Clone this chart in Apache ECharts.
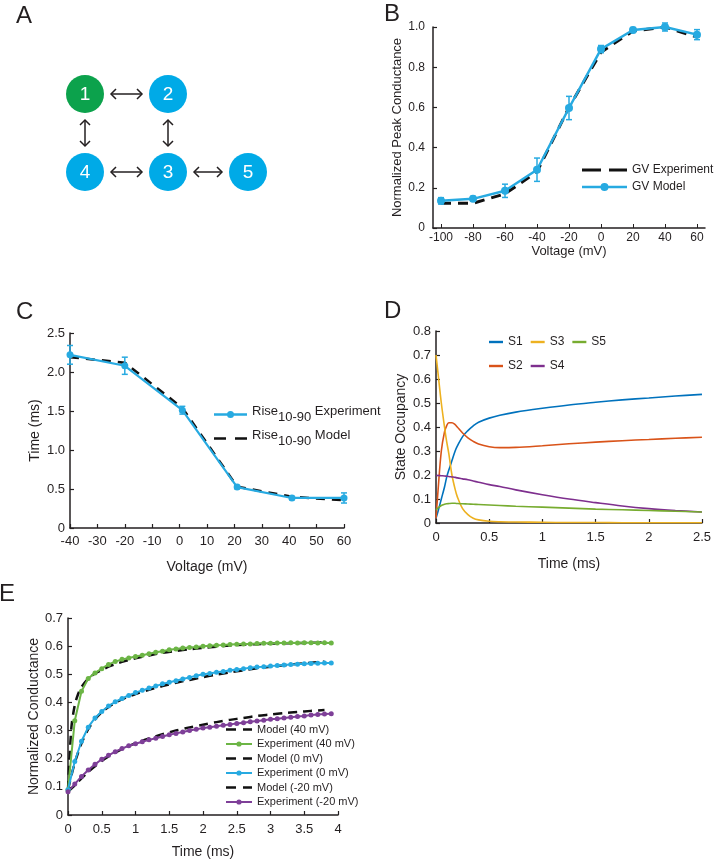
<!DOCTYPE html>
<html>
<head>
<meta charset="utf-8">
<script src="https://cdn.jsdelivr.net/npm/echarts@6/dist/echarts.min.js"></script>
<style>html,body{margin:0;padding:0;background:#fff}#c{width:714px;height:860px}</style>
</head>
<body>
<div id="c"></div>
<script>
// ---------- Panel A: kinetic scheme ----------
const aStates = ['1', '2', '3', '4', '5'];
const aStateColors = ['#0CA24C', '#00AAE7', '#00AAE7', '#00AAE7', '#00AAE7'];
const aTransitions = [['1', '2'], ['1', '4'], ['2', '3'], ['4', '3'], ['3', '5']];

// ---------- Panel B: GV ----------
const bVolt = [-100, -80, -60, -40, -20, 0, 20, 40, 60];
const bExp = [0.123, 0.123, 0.17, 0.28, 0.60, 0.875, 0.98, 1.0, 0.95];
const bModel = [0.135, 0.145, 0.185, 0.29, 0.597, 0.89, 0.985, 1.0, 0.962];
const bErr = [0.016, 0.012, 0.033, 0.058, 0.058, 0.018, 0.012, 0.02, 0.025];
const bTicks = [-100, -80, -60, -40, -20, 0, 20, 40, 60];

// ---------- Panel C: Rise 10-90 ----------
const cVolt = [-40, -20, 1, 21, 41, 60];
const cExp = [2.22, 2.08, 1.51, 0.525, 0.385, 0.385];
const cErr = [0.12, 0.11, 0.05, 0.02, 0.02, 0.065];
const cModel = [2.19, 2.12, 1.54, 0.53, 0.40, 0.355];

// ---------- Panel D: state occupancy ----------
const dTime = [0, 0.02, 0.05, 0.08, 0.1, 0.12, 0.15, 0.18, 0.2, 0.25, 0.3, 0.35, 0.4, 0.5, 0.6, 0.75, 1.0, 1.25, 1.5, 1.75, 2.0, 2.25, 2.5];
const dS1 = [0.02, 0.05, 0.10, 0.15, 0.19, 0.22, 0.26, 0.30, 0.32, 0.36, 0.385, 0.405, 0.42, 0.437, 0.449, 0.462, 0.478, 0.492, 0.503, 0.513, 0.521, 0.529, 0.536];
const dS2 = [0.02, 0.14, 0.30, 0.38, 0.405, 0.418, 0.418, 0.41, 0.40, 0.375, 0.355, 0.34, 0.329, 0.318, 0.314, 0.315, 0.322, 0.33, 0.337, 0.343, 0.348, 0.353, 0.357];
const dS3 = [0.70, 0.62, 0.50, 0.40, 0.34, 0.29, 0.20, 0.14, 0.11, 0.06, 0.035, 0.02, 0.013, 0.007, 0.005, 0.004, 0.003, 0.002, 0.002, 0.001, 0.001, 0.001, 0.001];
const dS4 = [0.198, 0.198, 0.197, 0.196, 0.195, 0.194, 0.192, 0.19, 0.188, 0.184, 0.18, 0.175, 0.17, 0.16, 0.152, 0.138, 0.118, 0.1, 0.085, 0.071, 0.06, 0.052, 0.046];
const dS5 = [0.055, 0.063, 0.073, 0.078, 0.08, 0.081, 0.082, 0.082, 0.081, 0.08, 0.079, 0.078, 0.077, 0.075, 0.073, 0.07, 0.066, 0.062, 0.058, 0.055, 0.052, 0.049, 0.046];

// ---------- Panel E: conductance vs time ----------
const eTime = [0, 0.1, 0.2, 0.3, 0.4, 0.5, 0.6, 0.7, 0.8, 0.9, 1.0, 1.1, 1.2, 1.3, 1.4, 1.5, 1.6, 1.7, 1.8, 1.9,
               2.0, 2.1, 2.2, 2.3, 2.4, 2.5, 2.6, 2.7, 2.8, 2.9, 3.0, 3.1, 3.2, 3.3, 3.4, 3.5, 3.6, 3.7, 3.8, 3.9];
const eExp40 = [0.09, 0.335, 0.44, 0.485, 0.505, 0.52, 0.535, 0.545, 0.553, 0.558, 0.563, 0.568, 0.573, 0.578, 0.582, 0.587, 0.59, 0.593, 0.595, 0.597,
                0.6, 0.601, 0.603, 0.604, 0.606, 0.607, 0.608, 0.608, 0.609, 0.61, 0.61, 0.611, 0.611, 0.612, 0.611, 0.612, 0.612, 0.611, 0.612, 0.611];
const eExp0 = [0.09, 0.19, 0.262, 0.312, 0.345, 0.368, 0.387, 0.402, 0.414, 0.425, 0.435, 0.443, 0.451, 0.458, 0.466, 0.472, 0.477, 0.483, 0.489, 0.495,
               0.5, 0.503, 0.507, 0.51, 0.514, 0.517, 0.52, 0.523, 0.526, 0.527, 0.529, 0.531, 0.533, 0.535, 0.536, 0.537, 0.538, 0.539, 0.54, 0.54];
const eExpM20 = [0.083, 0.11, 0.137, 0.16, 0.18, 0.198, 0.212, 0.225, 0.236, 0.246, 0.253, 0.26, 0.267, 0.273, 0.279, 0.285, 0.29, 0.295, 0.3, 0.305,
                 0.309, 0.312, 0.315, 0.319, 0.322, 0.325, 0.328, 0.331, 0.334, 0.337, 0.34, 0.342, 0.345, 0.347, 0.35, 0.352, 0.355, 0.357, 0.359, 0.36];
const eModelTime = [0, 0.05, 0.1, 0.15, 0.2, 0.3, 0.4, 0.5, 0.6, 0.7, 0.8, 0.9, 1.0, 1.2, 1.4, 1.6, 1.8, 2.0, 2.2, 2.4, 2.6, 2.8, 3.0, 3.2, 3.4, 3.6, 3.8];
const eModel40 = [0.09, 0.31, 0.39, 0.43, 0.455, 0.485, 0.503, 0.515, 0.527, 0.536, 0.544, 0.551, 0.557, 0.567, 0.576, 0.583, 0.589, 0.594, 0.598, 0.602, 0.605, 0.607, 0.609, 0.61, 0.611, 0.612, 0.613];
const eModel0 = [0.09, 0.14, 0.185, 0.222, 0.255, 0.305, 0.34, 0.365, 0.384, 0.399, 0.411, 0.421, 0.43, 0.445, 0.458, 0.47, 0.48, 0.49, 0.499, 0.507, 0.514, 0.521, 0.527, 0.532, 0.537, 0.541, 0.545];
const eModelM20 = [0.083, 0.094, 0.105, 0.118, 0.13, 0.153, 0.173, 0.192, 0.208, 0.222, 0.234, 0.245, 0.255, 0.272, 0.287, 0.3, 0.311, 0.321, 0.33, 0.338, 0.345, 0.352, 0.357, 0.362, 0.366, 0.37, 0.373];

// ---------- styling ----------
const FONT = '"Liberation Sans", Arial, sans-serif';
const INK = '#231F20';
const BLUE = '#27AAE1';
const GREEN = '#6CB545';
const PURPLE = '#7E3F98';
const MAT = ['#0072BD', '#D95319', '#EDB120', '#7E2F8E', '#77AC30'];

const zip = (xs, ys) => xs.map((x, i) => [x, ys[i]]);
const fmt1 = v => (v === 0 ? '0' : v.toFixed(1));

// legend icon shapes
const ICON_B_DASH = 'path://M0,0H19V3H0Z M27,0H45V3H27Z';
const ICON_C_DASH = 'path://M0,0H12V2.6H0Z M21,0H33V2.6H21Z';
const ICON_E_DASH = 'path://M0,0H10V2.6H0Z M17,0H26V2.6H17Z';
const ICON_D_LINE = 'path://M0,0H14V2.4H0Z';
const dotIcon = (w, lw, r) => {
  const cx = w / 2, cy = r;
  return 'path://M0,' + (cy - lw / 2) + 'H' + w + 'V' + (cy + lw / 2) + 'H0Z M' + (cx - r) + ',' + cy +
    ' A' + r + ',' + r + ' 0 1,1 ' + (cx + r) + ',' + cy + ' A' + r + ',' + r + ' 0 1,1 ' + (cx - r) + ',' + cy + 'Z';
};

function axisBase(extra, labelSize, nameSize) {
  return Object.assign({
    type: 'value',
    axisLine: { show: true, onZero: false, lineStyle: { color: INK, width: 1.5 } },
    axisTick: { show: true, inside: true, length: 4, lineStyle: { color: INK, width: 1.2 } },
    splitLine: { show: false },
    nameLocation: 'middle',
    nameTextStyle: { color: INK, fontSize: nameSize, fontFamily: FONT }
  }, extra, { axisLabel: Object.assign({ color: INK, fontSize: labelSize, fontFamily: FONT }, extra.axisLabel || {}) });
}

function errorSeries(gi, xs, ys, errs, color) {
  return {
    type: 'custom', xAxisIndex: gi, yAxisIndex: gi, silent: true, clip: false, z: 3,
    data: xs.map((x, i) => [x, ys[i] - errs[i], ys[i] + errs[i]]),
    encode: { x: 0, y: [1, 2] },
    renderItem: (params, api) => {
      const lo = api.coord([api.value(0), api.value(1)]);
      const hi = api.coord([api.value(0), api.value(2)]);
      const w = 3, st = { stroke: color, lineWidth: 1.5 };
      return { type: 'group', children: [
        { type: 'line', shape: { x1: lo[0], y1: lo[1], x2: hi[0], y2: hi[1] }, style: st },
        { type: 'line', shape: { x1: lo[0] - w, y1: lo[1], x2: lo[0] + w, y2: lo[1] }, style: st },
        { type: 'line', shape: { x1: hi[0] - w, y1: hi[1], x2: hi[0] + w, y2: hi[1] }, style: st }
      ] };
    }
  };
}

// ---------- Panel A graphics ----------
const aPos = { '1': [85, 94], '2': [168, 94], '3': [168, 172], '4': [85, 172], '5': [248, 172] };
const R = 19;
const aGraphics = [];
aStates.forEach((s, i) => {
  const p = aPos[s];
  aGraphics.push({ type: 'circle', shape: { cx: p[0], cy: p[1], r: R }, style: { fill: aStateColors[i] } });
  aGraphics.push({ type: 'text', x: p[0], y: p[1] + 1, style: { text: s, fill: '#fff', font: '19px ' + FONT, align: 'center', verticalAlign: 'middle' } });
});
aTransitions.forEach(([f, t]) => {
  const p = aPos[f], q = aPos[t];
  const dx = q[0] - p[0], dy = q[1] - p[1], L = Math.hypot(dx, dy);
  const ux = dx / L, uy = dy / L, gap = R + 7;
  const x1 = p[0] + ux * gap, y1 = p[1] + uy * gap, x2 = q[0] - ux * gap, y2 = q[1] - uy * gap;
  const h = 5, nx = -uy, ny = ux;
  const st = { stroke: INK, lineWidth: 1.5, fill: null };
  aGraphics.push({ type: 'line', shape: { x1, y1, x2, y2 }, style: st });
  aGraphics.push({ type: 'polyline', shape: { points: [[x1 + ux * h + nx * h, y1 + uy * h + ny * h], [x1, y1], [x1 + ux * h - nx * h, y1 + uy * h - ny * h]] }, style: st });
  aGraphics.push({ type: 'polyline', shape: { points: [[x2 - ux * h + nx * h, y2 - uy * h + ny * h], [x2, y2], [x2 - ux * h - nx * h, y2 - uy * h - ny * h]] }, style: st });
});
const letter = (t, x, y) => ({ type: 'text', x, y, style: { text: t, fill: INK, font: '24px ' + FONT, align: 'left', verticalAlign: 'middle' } });
aGraphics.push(letter('A', 16, 16), letter('B', 384, 14), letter('C', 16, 312), letter('D', 384, 311), letter('E', -1, 594));

const chart = echarts.init(document.getElementById('c'), null, { renderer: 'canvas' });
const riseRich = {
  a: { fontSize: 13, fontFamily: FONT, color: INK, padding: [0, 0, 6, 0] },
  s: { fontSize: 13, fontFamily: FONT, color: INK, padding: [6, 0, 0, 0] }
};
const legText = { color: INK, fontSize: 12, fontFamily: FONT };

chart.setOption({
  animation: false,
  textStyle: { fontFamily: FONT },
  graphic: aGraphics,
  grid: [
    { left: 433, top: 27, width: 272, height: 201 },   // B
    { left: 70, top: 333, width: 274, height: 195 },   // C
    { left: 436, top: 331, width: 272, height: 192 },  // D
    { left: 68, top: 618, width: 270, height: 197 }    // E
  ],
  xAxis: [
    axisBase({ gridIndex: 0, min: -105, max: 65, name: 'Voltage (mV)', nameGap: 15,
      axisTick: { show: true, inside: true, length: 4, customValues: bTicks, lineStyle: { color: INK } },
      axisLabel: { margin: 4, customValues: bTicks } }, 12, 13),
    axisBase({ gridIndex: 1, min: -40, max: 60, interval: 10, name: 'Voltage (mV)', nameGap: 32,
      axisLabel: { margin: 7 } }, 13, 14),
    axisBase({ gridIndex: 2, min: 0, max: 2.5, interval: 0.5, name: 'Time (ms)', nameGap: 34,
      axisLabel: { margin: 8 } }, 13, 14),
    axisBase({ gridIndex: 3, min: 0, max: 4, interval: 0.5, name: 'Time (ms)', nameGap: 30,
      axisLabel: { margin: 8 } }, 13, 14)
  ],
  yAxis: [
    axisBase({ gridIndex: 0, min: 0, max: 1, interval: 0.2, name: 'Normalized Peak Conductance', nameGap: 25,
      axisLabel: { margin: 8, formatter: fmt1 } }, 12, 13),
    axisBase({ gridIndex: 1, min: 0, max: 2.5, interval: 0.5, name: 'Time (ms)', nameGap: 28,
      axisLabel: { margin: 5, formatter: fmt1 } }, 13, 14),
    axisBase({ gridIndex: 2, min: 0, max: 0.8, interval: 0.1, name: 'State Occupancy', nameGap: 28,
      axisLabel: { margin: 5, formatter: fmt1 } }, 13, 14),
    axisBase({ gridIndex: 3, min: 0, max: 0.7, interval: 0.1, name: 'Normalized Conductance', nameGap: 21,
      axisLabel: { margin: 5, formatter: fmt1 } }, 13, 14)
  ],
  legend: [
    { left: 582, top: 164, padding: 0, orient: 'vertical', itemWidth: 45, itemHeight: 10, itemGap: 5,
      data: [{ name: 'GV Experiment', icon: ICON_B_DASH }, { name: 'GV Model', icon: dotIcon(45, 2.5, 4) }], textStyle: legText },
    { left: 214, top: 405, padding: 0, orient: 'vertical', itemWidth: 33, itemHeight: 10, itemGap: 5,
      data: [{ name: 'Rise10-90 Experiment', icon: dotIcon(33, 2.4, 3.5) }, { name: 'Rise10-90 Model', icon: ICON_C_DASH }],
      formatter: n => n === 'Rise10-90 Experiment' ? '{a|Rise}{s|10-90}{a| Experiment}' : '{a|Rise}{s|10-90}{a| Model}',
      textStyle: Object.assign({}, legText, { fontSize: 13, rich: riseRich }) },
    { left: 489, top: 336, padding: 0, orient: 'horizontal', itemWidth: 14, itemHeight: 10, itemGap: 8,
      data: ['S1', 'S3', 'S5'].map(n => ({ name: n, icon: ICON_D_LINE })), textStyle: legText },
    { left: 489, top: 360, padding: 0, orient: 'horizontal', itemWidth: 14, itemHeight: 10, itemGap: 8,
      data: ['S2', 'S4'].map(n => ({ name: n, icon: ICON_D_LINE })), textStyle: legText },
    { left: 226, top: 723, padding: 0, orient: 'vertical', itemWidth: 26, itemHeight: 8, itemGap: 1.5,
      data: [
        { name: 'Model (40 mV)', icon: ICON_E_DASH }, { name: 'Experiment (40 mV)', icon: dotIcon(26, 2, 2.6) },
        { name: 'Model (0 mV)', icon: ICON_E_DASH }, { name: 'Experiment (0 mV)', icon: dotIcon(26, 2, 2.6) },
        { name: 'Model (-20 mV)', icon: ICON_E_DASH }, { name: 'Experiment (-20 mV)', icon: dotIcon(26, 2, 2.6) }
      ],
      textStyle: Object.assign({}, legText, { fontSize: 11, lineHeight: 13 }) }
  ],
  series: [
    // B
    { name: 'GV Experiment', type: 'line', xAxisIndex: 0, yAxisIndex: 0, data: zip(bVolt, bExp), symbol: 'none',
      lineStyle: { color: '#111', width: 3, type: [10, 7] }, itemStyle: { color: '#111' }, z: 2 },
    errorSeries(0, bVolt, bModel, bErr, BLUE),
    { name: 'GV Model', type: 'line', xAxisIndex: 0, yAxisIndex: 0, data: zip(bVolt, bModel), symbol: 'circle', symbolSize: 8,
      lineStyle: { color: BLUE, width: 2.5 }, itemStyle: { color: BLUE }, z: 4 },
    // C
    { name: 'Rise10-90 Model', type: 'line', xAxisIndex: 1, yAxisIndex: 1, data: zip(cVolt, cModel), symbol: 'none',
      lineStyle: { color: '#111', width: 2.5, type: [9, 7] }, itemStyle: { color: '#111' }, z: 2 },
    errorSeries(1, cVolt, cExp, cErr, BLUE),
    { name: 'Rise10-90 Experiment', type: 'line', xAxisIndex: 1, yAxisIndex: 1, data: zip(cVolt, cExp), symbol: 'circle', symbolSize: 7,
      lineStyle: { color: BLUE, width: 2.2 }, itemStyle: { color: BLUE }, z: 4 },
    // D
    ...[['S1', dS1], ['S2', dS2], ['S3', dS3], ['S4', dS4], ['S5', dS5]].map(([n, v], i) => ({
      name: n, type: 'line', xAxisIndex: 2, yAxisIndex: 2, data: zip(dTime, v), symbol: 'none',
      smooth: 0.35, lineStyle: { color: MAT[i], width: 1.6 }, itemStyle: { color: MAT[i] }
    })),
    // E
    { name: 'Model (40 mV)', type: 'line', xAxisIndex: 3, yAxisIndex: 3, data: zip(eModelTime, eModel40), symbol: 'none', smooth: 0.3,
      lineStyle: { color: '#111', width: 2.5, type: [9, 6] }, itemStyle: { color: '#111' }, z: 2 },
    { name: 'Experiment (40 mV)', type: 'line', xAxisIndex: 3, yAxisIndex: 3, data: zip(eTime, eExp40), symbol: 'circle', symbolSize: 5,
      lineStyle: { color: GREEN, width: 2 }, itemStyle: { color: GREEN }, z: 3 },
    { name: 'Model (0 mV)', type: 'line', xAxisIndex: 3, yAxisIndex: 3, data: zip(eModelTime, eModel0), symbol: 'none', smooth: 0.3,
      lineStyle: { color: '#111', width: 2.5, type: [9, 6] }, itemStyle: { color: '#111' }, z: 2 },
    { name: 'Experiment (0 mV)', type: 'line', xAxisIndex: 3, yAxisIndex: 3, data: zip(eTime, eExp0), symbol: 'circle', symbolSize: 5,
      lineStyle: { color: BLUE, width: 2 }, itemStyle: { color: BLUE }, z: 3 },
    { name: 'Model (-20 mV)', type: 'line', xAxisIndex: 3, yAxisIndex: 3, data: zip(eModelTime, eModelM20), symbol: 'none', smooth: 0.3,
      lineStyle: { color: '#111', width: 2.5, type: [9, 6] }, itemStyle: { color: '#111' }, z: 2 },
    { name: 'Experiment (-20 mV)', type: 'line', xAxisIndex: 3, yAxisIndex: 3, data: zip(eTime, eExpM20), symbol: 'circle', symbolSize: 5,
      lineStyle: { color: PURPLE, width: 2 }, itemStyle: { color: PURPLE }, z: 3 }
  ]
});
</script>
</body>
</html>
